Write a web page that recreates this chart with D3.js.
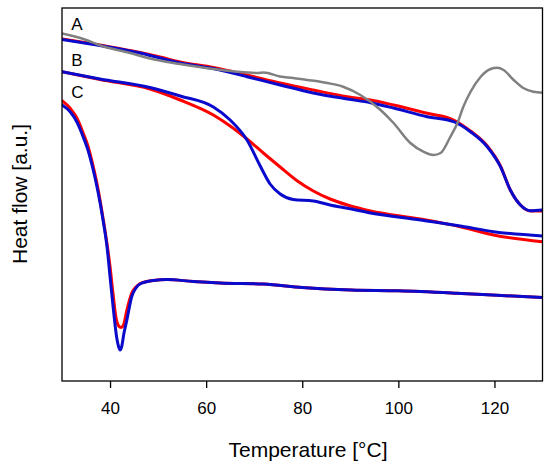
<!DOCTYPE html>
<html>
<head>
<meta charset="utf-8">
<script src="https://cdn.jsdelivr.net/npm/d3@7/dist/d3.min.js"></script>
<style>
  html, body { margin: 0; padding: 0; background: #fff; }
  svg { display: block; }
</style>
</head>
<body>
<div id="chart"></div>
<script>
// ===== DSC HEAT FLOW CHART =====

// temperature [°C], heat flow [a.u.]
const curveA_gray = [
  [30, 34.75], [33.8, 34.3], [39, 33.4], [44.2, 32.8], [48.3, 32.25], [54.6, 31.7],
  [61.5, 31.2], [66, 30.95], [70.6, 30.8], [72, 30.85], [75.4, 30.45], [78.1, 30.3],
  [81, 30.1], [83.5, 29.95], [85.2, 29.8], [88.5, 29.43], [92.1, 28.6], [96.3, 27.1],
  [99, 25.8], [102.5, 23.8], [105.2, 22.93], [107.3, 22.6], [108.8, 22.8], [110.8, 24.4],
  [112.3, 25.8], [113.5, 27.4], [115, 28.9], [117.1, 30.4], [119.2, 31.2], [120.6, 31.33],
  [121.9, 31.1], [124, 30.1], [126, 29.3], [128.1, 28.93], [130, 28.83]
];
const curveA_red = [
  [30, 34.2], [39, 33.5], [46.25, 32.85], [50.4, 32.4], [54.6, 31.9], [61.5, 31.35],
  [68.5, 30.6], [75.4, 29.8], [82.3, 29.1], [89.4, 28.43], [94.2, 28.1], [99, 27.6],
  [106, 26.77], [111.5, 26.1], [115, 25], [118.5, 23.5], [121.25, 21.5], [123.3, 19.1],
  [125.4, 17.6], [127.5, 17], [130, 17]
];
const curveA_blue = [
  [30, 34.15], [39, 33.45], [46.25, 32.8], [50.4, 32.3], [54.6, 31.8], [61.5, 31.25],
  [68.5, 30.43], [75.4, 29.6], [82.3, 28.8], [89.4, 28.2], [94.2, 27.83], [99, 27.3],
  [106, 26.43], [111.5, 25.93], [115, 24.93], [118.5, 23.43], [121.25, 21.43], [123.3, 19.1],
  [125.4, 17.6], [127.5, 17.03], [130, 17.1]
];
const curveB_red = [
  [30, 30.93], [37.9, 30.15], [48.3, 29.2], [54.6, 28.1], [61.5, 26.6], [65, 25.5],
  [68.5, 24.2], [71.9, 22.8], [75.4, 21.4], [79, 20], [82.3, 19], [85.8, 18.2],
  [89.4, 17.6], [94.2, 17], [104.6, 16.2], [112.9, 15.43], [119.8, 14.6], [130, 13.93]
];
const curveB_blue = [
  [30, 30.93], [37.9, 30.2], [48.3, 29.35], [54.6, 28.5], [61.5, 27.4],
  [65, 26.1], [68.5, 24.1], [71.25, 21.5], [73.3, 19.7], [75.4, 18.7], [78.1, 18.15],
  [82.3, 18], [85.8, 17.6], [89.4, 17.27], [94.2, 16.8], [104.6, 16.1], [112.9, 15.5],
  [119.8, 14.93], [130, 14.5]
];
const curveC_red = [
  [30, 28.03], [31.7, 27.27], [33.1, 26.3], [34.4, 24.8], [35.4, 23.5], [36.5, 21.43],
  [37.5, 19.2], [38.6, 16.1], [39.4, 13.6], [40, 11.43], [40.6, 8.8], [41.25, 6.3],
  [41.8, 5.5], [42.3, 5.35], [42.8, 5.6], [43.5, 7.1], [44.5, 8.77], [45.4, 9.4],
  [46.25, 9.75], [49, 10.05], [51.9, 10.15], [57.3, 9.95], [62.9, 9.8], [71.9, 9.7],
  [80, 9.35], [90.2, 9.1], [100, 9.02], [112.1, 8.78], [119.5, 8.6], [130, 8.35]
];
const curveC_blue = [
  [30, 27.6], [31.7, 26.93], [33.1, 25.9], [34.4, 24.43], [35.4, 23.1], [36.5, 21.1],
  [37.5, 18.9], [38.6, 15.93], [39.4, 13.3], [40, 10.43], [40.6, 7.6], [41.4, 4.3],
  [41.8, 3.4], [42.1, 3.1], [42.4, 3.4], [42.9, 4.8], [43.5, 6.1], [44.5, 8.43],
  [45.4, 9.3], [46.25, 9.7], [49, 10.05], [51.9, 10.15], [57.3, 9.95], [62.9, 9.8],
  [71.9, 9.7], [80, 9.35], [90.2, 9.1], [100, 9.02], [112.1, 8.78], [119.5, 8.6], [130, 8.35]
];

const xTicks = [40, 60, 80, 100, 120];
const curveLabels = ['A', 'B', 'C'];

const width = 550;
const height = 467;
const margin = { top: 8, right: 7.5, bottom: 86, left: 62 };
const font = "'Liberation Sans', Arial, sans-serif";

const svg = d3.select('#chart')
  .append('svg')
  .attr('width', width)
  .attr('height', height);

svg.append('rect')
  .attr('width', width)
  .attr('height', height)
  .attr('fill', '#fff');

const plotW = width - margin.left - margin.right;
const plotH = height - margin.top - margin.bottom;

const g = svg.append('g')
  .attr('transform', `translate(${margin.left}, ${margin.top})`);

// Scales
const xScale = d3.scaleLinear()
  .domain([30, 130])
  .range([0, plotW]);

const yScale = d3.scaleLinear()
  .domain([0, 37.3])
  .range([plotH, 0]);

// clip the traces to the frame
svg.append('defs').append('clipPath')
  .attr('id', 'plot-clip')
  .append('rect')
  .attr('width', plotW)
  .attr('height', plotH);

const line = d3.line()
  .x(d => xScale(d[0]))
  .y(d => yScale(d[1]))
  .curve(d3.curveMonotoneX);

const traces = [
  { data: curveA_red, color: '#ff0000', w: 3 },
  { data: curveB_red, color: '#ff0000', w: 3 },
  { data: curveC_red, color: '#ff0000', w: 3 },
  { data: curveA_blue, color: '#0a0acc', w: 3 },
  { data: curveB_blue, color: '#0a0acc', w: 3 },
  { data: curveC_blue, color: '#0a0acc', w: 3 },
  { data: curveA_gray, color: '#808080', w: 2.5 }
];

const lines = g.append('g').attr('clip-path', 'url(#plot-clip)');
traces.forEach(t => {
  lines.append('path')
    .datum(t.data)
    .attr('d', line)
    .attr('fill', 'none')
    .attr('stroke', t.color)
    .attr('stroke-width', t.w)
    .attr('stroke-linejoin', 'round')
    .attr('stroke-linecap', 'round');
});

// X axis (ticks only, frame drawn separately)
const xAxis = d3.axisBottom(xScale)
  .tickValues(xTicks)
  .tickFormat(d3.format('d'))
  .tickSizeOuter(0)
  .tickSize(7)
  .tickPadding(14);

const xg = g.append('g')
  .attr('transform', `translate(0, ${plotH})`)
  .call(xAxis);
xg.select('.domain').remove();
xg.selectAll('line').attr('stroke', '#000').attr('stroke-width', 1.3);
xg.selectAll('text')
  .attr('fill', '#000')
  .style('font-size', '17px')
  .style('font-family', font);

// Frame
g.append('rect')
  .attr('width', plotW)
  .attr('height', plotH)
  .attr('fill', 'none')
  .attr('stroke', '#000')
  .attr('stroke-width', 1.3);

// Curve letters, set just above each trace start
const labelY = [35.1, 31.5, 28.3];
curveLabels.forEach((name, i) => {
  g.append('text')
    .attr('x', xScale(31.9))
    .attr('y', yScale(labelY[i]))
    .attr('font-size', '17px')
    .attr('font-family', font)
    .attr('fill', '#000')
    .text(name);
});

// Axis titles
svg.append('text')
  .attr('x', 308)
  .attr('y', 456.5)
  .attr('text-anchor', 'middle')
  .attr('font-size', '21px')
  .attr('font-family', font)
  .attr('fill', '#000')
  .text('Temperature [°C]');

svg.append('text')
  .attr('transform', 'rotate(-90)')
  .attr('x', -194)
  .attr('y', 27)
  .attr('text-anchor', 'middle')
  .attr('font-size', '21px')
  .attr('font-family', font)
  .attr('fill', '#000')
  .text('Heat flow [a.u.]');
</script>
</body>
</html>
